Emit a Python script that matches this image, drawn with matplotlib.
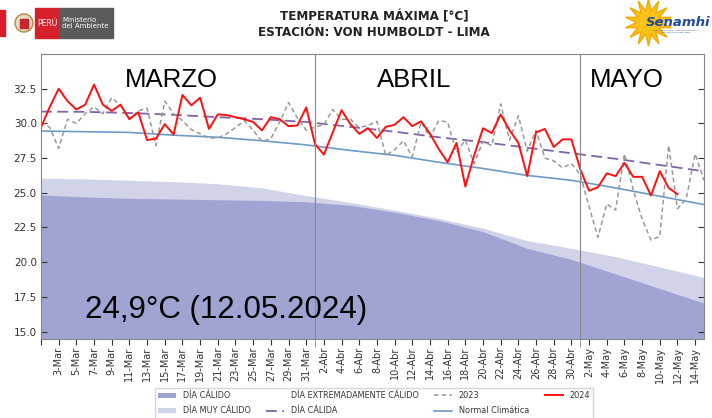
import pandas as pd
import matplotlib.pyplot as plt
from matplotlib.patches import Patch, Rectangle, Circle
from matplotlib.lines import Line2D

# fechas del periodo mostrado
fechas = pd.date_range('2024-03-01', '2024-05-15', freq='D')

# temperatura maxima diaria 2024 (1-Mar a 12-May)
t2024 = [29.7, 31.2, 32.5, 31.6, 31.0, 31.35, 32.8, 31.35, 30.9, 31.35,
         30.3, 30.8, 28.8, 28.9, 29.95, 29.2, 32.05, 31.3, 31.85, 29.6,
         30.65, 30.6, 30.45, 30.3, 30.1, 29.5, 30.45, 30.3, 29.8, 29.85,
         31.15, 28.5, 27.75, 29.35, 30.95, 29.95, 29.25, 29.65, 28.95, 29.75,
         29.9, 30.45, 29.8, 30.15, 29.25, 28.15, 27.2, 28.6, 25.45, 27.7,
         29.65, 29.3, 30.65, 29.5, 28.6, 26.2, 29.35, 29.6, 28.3, 28.85,
         28.85, 26.7, 25.15, 25.4, 26.4, 26.2, 27.15, 26.15, 26.15, 24.8,
         26.55, 25.35, 24.9]

# temperatura maxima diaria 2023 (1-Mar a 15-May)
t2023 = [30.1, 29.7, 28.2, 30.3, 30.0, 30.7, 31.2, 30.7, 31.85, 31.3,
         30.3, 30.9, 31.1, 28.4, 31.6, 30.7, 30.2, 29.55, 29.25, 28.95,
         28.95, 29.25, 29.7, 30.2, 29.5, 28.7, 28.9, 30.1, 31.5, 30.4,
         29.5, 29.75, 29.9, 31.0, 30.3, 30.3, 29.7, 29.85, 30.15, 27.7,
         28.1, 28.75, 27.6, 30.1, 29.0, 30.2, 30.1, 27.9, 28.8, 27.1,
         28.7, 28.4, 31.4, 28.8, 30.55, 28.0, 29.5, 27.5, 27.3, 26.8,
         27.1, 26.3, 24.0, 21.8, 24.2, 23.75, 27.8, 25.2, 23.1, 21.6,
         21.85, 28.4, 23.85, 24.6, 27.8, 25.9]

# umbrales y normal climatica (cada 5 dias)
clim_idx = [0, 5, 10, 15, 20, 25, 30, 35, 40, 45, 50, 55, 60, 65, 70, 75]
normal = [29.45, 29.4, 29.35, 29.15, 29.0, 28.75, 28.45, 28.05,
          27.7, 27.2, 26.75, 26.25, 25.9, 25.35, 24.75, 24.15]
dia_calida = [30.85, 30.83, 30.75, 30.62, 30.45, 30.3, 30.1, 29.75,
              29.4, 29.0, 28.65, 28.25, 27.85, 27.45, 27.0, 26.55]
muy_calido = [26.05, 26.0, 25.9, 25.8, 25.65, 25.35, 24.8, 24.3,
              23.75, 23.15, 22.45, 21.55, 21.0, 20.4, 19.65, 18.9]
calido = [24.85, 24.7, 24.6, 24.55, 24.5, 24.45, 24.35, 24.1,
          23.6, 23.0, 22.2, 21.0, 20.2, 19.15, 18.1, 17.05]

meses = {3: 'Mar', 4: 'Abr', 5: 'May'}

fig = plt.figure(figsize=(7.12, 4.18), dpi=100)
ax = fig.add_axes([41 / 712, 1 - 338.5 / 418, 663 / 712, 284.5 / 418])

fc = fechas[clim_idx]
ax.fill_between(fc, 0, muy_calido, color='#d1d3e9', lw=0)
ax.fill_between(fc, 0, calido, color='#a0a4d2', lw=0)
ax.plot(fc, dia_calida, color='#8064a8', lw=1.3, dashes=(6, 3))
ax.plot(fc, normal, color='#6c9bc6', lw=1.2)
ax.plot(fechas[:len(t2023)], t2023, color='#999999', lw=1.1, dashes=(3, 2))
ax.plot(fechas[:len(t2024)], t2024, color='#ff1010', lw=1.4)

for m in ['2024-04-01', '2024-05-01']:
    ax.axvline(pd.Timestamp(m), color='#8a8a8a', lw=0.8)

ax.set_xlim(fechas[0], fechas[-1])
ax.set_ylim(14.5, 35)
ticks = fechas[::2]
ax.set_xticks(ticks)
ax.set_xticklabels(['' if i == 0 else f'{d.day}-{meses[d.month]}'
                    for i, d in enumerate(ticks)], rotation=90)
ax.set_xticks([pd.Timestamp('2024-04-01'), pd.Timestamp('2024-05-01')], minor=True)
ax.tick_params(axis='x', which='major', direction='out', length=4, pad=2,
               labelsize=7, colors='#333333')
ax.tick_params(axis='x', which='minor', direction='out', length=6, color='#8a8a8a')
ax.set_yticks([15, 17.5, 20, 22.5, 25, 27.5, 30, 32.5])
ax.set_yticklabels([f'{v:.1f}' for v in [15, 17.5, 20, 22.5, 25, 27.5, 30, 32.5]])
ax.tick_params(axis='y', direction='in', length=4.5, left=True, right=True,
               labelsize=7.5, colors='#333333', pad=3)
for s in ax.spines.values():
    s.set_color('#888888')

# textos de los meses
lib = 'Liberation Sans'
fig.text(171 / 712, 1 - 87.3 / 418, 'MARZO', ha='center', va='baseline',
         fontsize=18.5, family=lib)
fig.text(414 / 712, 1 - 87.3 / 418, 'ABRIL', ha='center', va='baseline',
         fontsize=18.5, family=lib)
fig.text(627 / 712, 1 - 87.3 / 418, 'MAYO', ha='center', va='baseline',
         fontsize=18.5, family=lib)
fig.text(85 / 712, 1 - 318 / 418, '24,9°C (12.05.2024)', ha='left', va='baseline',
         fontsize=22.5, family=lib)

# titulo
fig.text(374 / 712, 1 - 17 / 418, 'TEMPERATURA MÁXIMA [°C]', ha='center', va='center',
         fontsize=9.5, weight='bold', stretch='condensed', color='#222222')
fig.text(374 / 712, 1 - 32 / 418, 'ESTACIÓN: VON HUMBOLDT - LIMA', ha='center',
         va='center', fontsize=9.5, weight='bold', stretch='condensed', color='#222222')

# logos aproximados
lg = fig.add_axes([0, 0, 1, 1], zorder=-1)
lg.set_xlim(0, 712)
lg.set_ylim(418, 0)
lg.axis('off')
lg.add_patch(Rectangle((0, 10), 5, 26, color='#d91a2a'))
lg.add_patch(Circle((24, 23), 9, facecolor='#e8d9c0', edgecolor='#b08a4a', lw=1))
lg.add_patch(Rectangle((20, 19), 8, 9, color='#c8242c'))
lg.add_patch(Rectangle((35, 8), 24, 30, color='#d7202b'))
lg.text(47, 23, 'PERÚ', color='white', fontsize=5.5, ha='center', va='center')
lg.add_patch(Rectangle((59, 8), 54, 30, color='#5a5a5a'))
lg.text(62, 23, 'Ministerio\ndel Ambiente', color='white', fontsize=5,
        ha='left', va='center', linespacing=1.1)
lg.plot([648], [22], marker=(14, 1, 0), markersize=34, color='#f7c21a', mec='#f2a900')
lg.text(710, 22, 'Senamhi', color='#1c4c9c', fontsize=9.5, weight='bold',
        style='italic', ha='right', va='center')
lg.text(676, 31, 'SERVICIO NACIONAL DE METEOROLOGÍA\nE HIDROLOGÍA DEL PERÚ',
        color='#1c4c9c', fontsize=1.6, ha='center', va='center')

# leyenda
handles = [Patch(facecolor='#a0a4d2'), Patch(facecolor='#d1d3e9'),
           Patch(facecolor='white'),
           Line2D([], [], color='#8064a8', lw=1.3, dashes=(6, 3)),
           Line2D([], [], color='#999999', lw=1.1, dashes=(3, 2)),
           Line2D([], [], color='#6c9bc6', lw=1.2),
           Line2D([], [], color='#ff1010', lw=1.4)]
labels = ['DÍA CÁLIDO', 'DÍA MUY CÁLIDO', 'DÍA EXTREMADAMENTE CÁLIDO', 'DÍA CÁLIDA',
          '2023', 'Normal Climática', '2024']
leg = fig.legend(handles, labels, ncol=4, loc='upper left',
                 bbox_to_anchor=(155 / 712, 1 - 388 / 418), fontsize=5.9,
                 frameon=True, fancybox=False, edgecolor='#cccccc',
                 borderaxespad=0, handlelength=2.2, columnspacing=1.9,
                 labelspacing=0.75)
for t in leg.get_texts():
    t.set_color('#333333')

fig.savefig('out.png', dpi=100)
